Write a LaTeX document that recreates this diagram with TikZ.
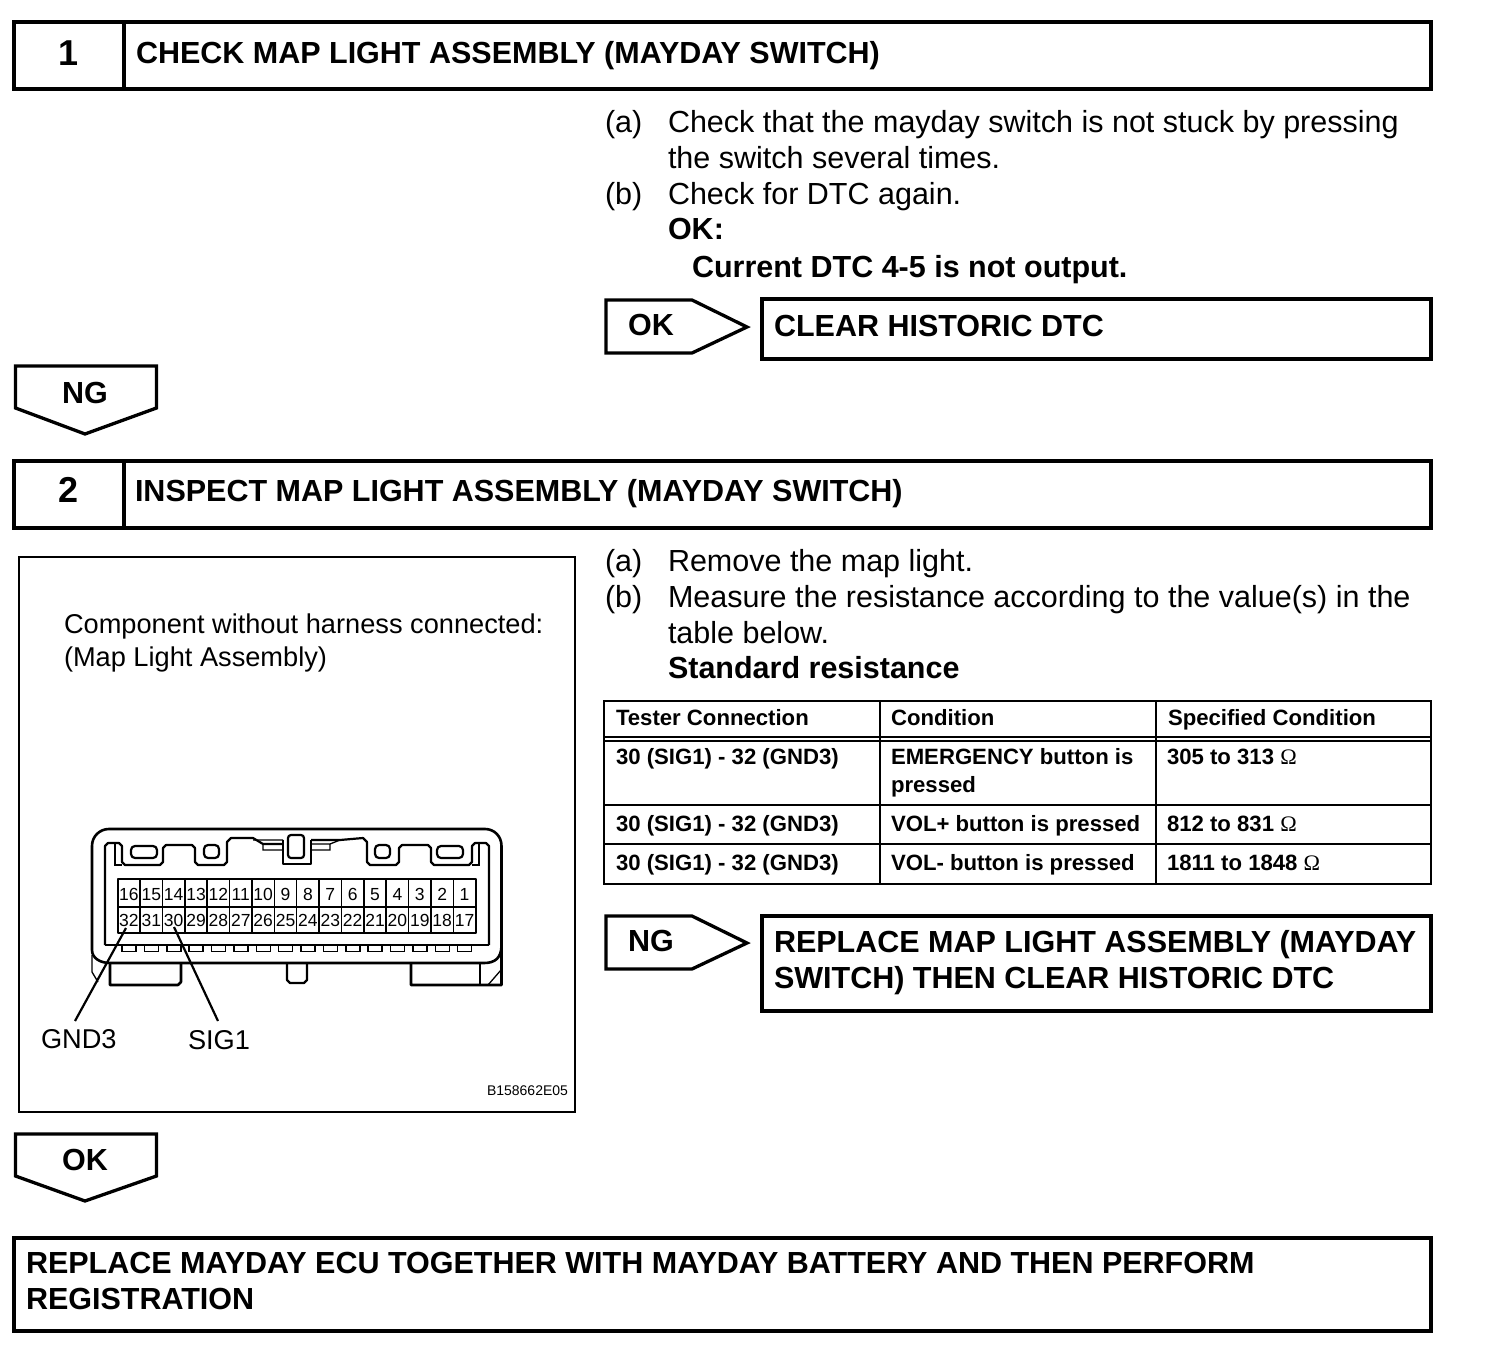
\documentclass[tikz,border=0pt]{standalone}
\usepackage{fontspec}
\setmainfont{Liberation Sans}
\newfontfamily\omfont{Liberation Serif}
\newcommand{\fs}[1]{\fontsize{#1}{#1}\selectfont}
\tikzset{
 x=1pt,y=-1pt,
 txt/.style={anchor=base west,inner sep=0pt,outer sep=0pt},
 head/.style={txt,font=\fs{30.5}\bfseries},
 body/.style={txt,font=\fs{30.5}},
 bodyb/.style={txt,font=\fs{30.5}\bfseries},
 tabt/.style={txt,font=\fs{22.15}\bfseries},
 captxt/.style={txt,font=\fs{27.2}},
 pintxt/.style={anchor=base,inner sep=0pt,font=\fs{17.5}},
 box/.style={draw,line width=3.3pt},
 arrowbox/.style={draw,line width=3.3pt,miter limit=10},
 tline/.style={line width=2.4pt},
 conn/.style={line width=2.2pt,line join=round},
 thinl/.style={line width=1.3pt},
}
\begin{document}
\begin{tikzpicture}
\useasboundingbox (0,0) rectangle (1504,1372);
\fill[white] (0,0) rectangle (1504,1372);
% step 1
\draw[box] (14,22) rectangle (1431,89);
\draw[box] (124,22) -- (124,89);
\node[head,anchor=base,font=\fs{36}\bfseries] (n1) at (69,65.5) {1};
\node[head] (t1) at (136,64) {CHECK MAP LIGHT ASSEMBLY (MAYDAY SWITCH)};
\node[body] (a1l) at (605,132.5) {(a)};
\node[body] (a1) at (668,132.5) {Check that the mayday switch is not stuck by pressing};
\node[body] (a1b) at (668,168.5) {the switch several times.};
\node[body] (b1l) at (605,204.5) {(b)};
\node[body] (b1) at (668,204.5) {Check for DTC again.};
\node[bodyb] (ok1) at (668,240) {OK:};
\node[bodyb] (ok1t) at (692,277) {Current DTC 4-5 is not output.};
% OK right arrow
\draw[arrowbox] (606,300) -- (692,300) -- (747,327) -- (692,353) -- (606,353) -- cycle;
\node[head,anchor=base] (okr) at (651,335) {OK};
\draw[box] (762,299) rectangle (1431,359);
\node[head] (clr) at (774,336.5) {CLEAR HISTORIC DTC};
% NG down
\draw[arrowbox] (15.5,366) -- (156.5,366) -- (156.5,408) -- (85,434) -- (15.5,408) -- cycle;
\node[head,anchor=base] (ngd) at (85,403) {NG};
% step 2
\draw[box] (14,461) rectangle (1431,528);
\draw[box] (124,461) -- (124,528);
\node[head,anchor=base,font=\fs{36}\bfseries] (n2) at (69,502) {2};
\node[head] (t2) at (135,501.5) {INSPECT MAP LIGHT ASSEMBLY (MAYDAY SWITCH)};
\node[body] (a2l) at (605,571) {(a)};
\node[body] (a2) at (668,571) {Remove the map light.};
\node[body] (b2l) at (605,607) {(b)};
\node[body] (b2) at (668,607) {Measure the resistance according to the value(s) in the};
\node[body] (b2b) at (668,643) {table below.};
\node[bodyb] (std) at (668,678.5) {Standard resistance};
% table
\draw[tline] (604,701) rectangle (1431,884);
\draw[tline] (880,701) -- (880,884);
\draw[tline] (1156,701) -- (1156,884);
\draw[tline] (604,737) -- (1431,737);
\draw[tline] (604,741) -- (1431,741);
\draw[tline] (604,805) -- (1431,805);
\draw[tline] (604,844) -- (1431,844);
\node[tabt] (h1) at (616,725.5) {Tester Connection};
\node[tabt] (h2) at (891,725.5) {Condition};
\node[tabt] (h3) at (1168,725.5) {Specified Condition};
\node[tabt] (r1a) at (616,764.5) {30 (SIG1) - 32 (GND3)};
\node[tabt] (r1b) at (891,764.5) {EMERGENCY button is};
\node[tabt] (r1bb) at (891,792.5) {pressed};
\node[tabt] (r1c) at (1167,764.5) {305 to 313 {\omfont\mdseries Ω}};
\node[tabt] (r2a) at (616,831.5) {30 (SIG1) - 32 (GND3)};
\node[tabt] (r2b) at (891,831.5) {VOL+ button is pressed};
\node[tabt] (r2c) at (1167,831.5) {812 to 831 {\omfont\mdseries Ω}};
\node[tabt] (r3a) at (616,870.5) {30 (SIG1) - 32 (GND3)};
\node[tabt] (r3b) at (891,870.5) {VOL- button is pressed};
\node[tabt] (r3c) at (1167,870.5) {1811 to 1848 {\omfont\mdseries Ω}};
% NG right arrow
\draw[arrowbox] (606,916) -- (692,916) -- (747,943) -- (692,969) -- (606,969) -- cycle;
\node[head,anchor=base] (ngr) at (651,951.5) {NG};
\draw[box] (762,916) rectangle (1431,1011);
\node[head] (rep1) at (774,952.5) {REPLACE MAP LIGHT ASSEMBLY (MAYDAY};
\node[head] (rep2) at (774,988.5) {SWITCH) THEN CLEAR HISTORIC DTC};
% figure frame
\draw[line width=2pt] (19,557) rectangle (575,1112);
\node[captxt] (c1) at (64,633) {Component without harness connected:};
\node[captxt] (c2) at (64,666) {(Map Light Assembly)};
% connector housing
\draw[conn,line width=2.6pt] (92,846) .. controls (92,836) and (100,829) .. (109,829) -- (485,829) .. controls (494,829) and (501.5,836) .. (501.5,846) -- (501.5,985) -- (411,985) -- (411,963);
\draw[conn,line width=2.6pt] (92,846) -- (92,950) .. controls (92,958) and (100,963) .. (110,963) -- (484,963) .. controls (495,963) and (501.5,958) .. (501.5,945);
\draw[thinl] (92,955) -- (92,972) -- (98,982);
\draw[conn,line width=2.6pt] (110,963) -- (110,985) -- (178,985) -- (181,982) -- (181,963);
\draw[conn] (287,963) -- (287,980) -- (290,983) -- (304,983) -- (307,980) -- (307,963);
\draw[thinl] (480,963) -- (480,985);
\draw[thinl] (501,970) -- (488,985);
% inner outline
\draw[conn] (105,945) -- (105,846) -- (108,843) -- (119,843) -- (122,846) -- (122,862) -- (125,865) -- (160,865) -- (163,862) -- (163,848) -- (166,845) -- (192,845) -- (195,848) -- (195,862) -- (198,865) -- (224,865) -- (227,862) -- (227,842) -- (231,838) -- (253,838) -- (263,844) -- (283,844);
\draw[conn] (489,945) -- (489,846) -- (486,843) -- (475,843) -- (472,846) -- (472,862) -- (469,865) -- (434,865) -- (431,862) -- (431,848) -- (428,845) -- (402,845) -- (399,848) -- (399,862) -- (396,865) -- (370,865) -- (367,862) -- (367,842) -- (363,838) -- (340,840) -- (311,840);
\draw[conn] (105,945) -- (489,945);
\draw[thinl] (115,843) -- (115,865) -- (122,865) (479,843) -- (479,865) -- (472,865);
\draw[conn] (283,840) -- (283,864) -- (311,864) -- (311,840);
\draw[conn,rounded corners=3pt] (288,835) rectangle (304,858);
\draw[thinl] (253,840) -- (283,840) (263,844) -- (263,850) -- (283,850) (340,840) -- (330,844) -- (330,850) -- (311,850) (330,844) -- (311,844);
\draw[conn,rounded corners=4pt] (131,846) rectangle (157,858);
\draw[conn,rounded corners=4pt] (204,845) rectangle (219,858);
\draw[conn,rounded corners=4pt] (375,845) rectangle (390,858);
\draw[conn,rounded corners=4pt] (437,846) rectangle (463,858);
% pin grid
\draw[conn,line width=2.2pt] (117.7,879) rectangle (475.7,933);
\draw[thinl] (117.7,907) -- (475.7,907);
\foreach \i in {1,...,15}{\draw[line width=1.5pt] ({117.7+22.375*\i},879) -- ({117.7+22.375*\i},933);}
\foreach \i in {0,...,15}{
  \pgfmathtruncatemacro{\ptop}{16-\i}
  \pgfmathtruncatemacro{\pbot}{32-\i}
  \node[pintxt] (pt\ptop) at ({128.9+22.375*\i},900.5) {\ptop};
  \node[pintxt] (pb\pbot) at ({128.9+22.375*\i},926.5) {\pbot};
  \draw[line width=1.5pt] ({122+22.375*\i},945) -- ({122+22.375*\i},951.5) -- ({136+22.375*\i},951.5) -- ({136+22.375*\i},945);
}
% leaders
\coordinate (gl) at (75,1021);
\coordinate (sl) at (218,1021);
\node[captxt] (gnd) at (41,1048) {GND3};
\node[captxt] (sig) at (188,1049) {SIG1};
\draw[conn] (126,928) -- (gl);
\draw[conn] (174,927) -- (sl);
\node[txt,font=\fs{14}] (ref) at (487,1095) {B158662E05};
% OK down
\draw[arrowbox] (15.5,1134) -- (156.5,1134) -- (156.5,1176) -- (85,1201) -- (15.5,1176) -- cycle;
\node[head,anchor=base] (okd) at (85,1170.5) {OK};
% final
\draw[box] (14,1238) rectangle (1431,1331);
\node[head] (f1) at (26,1273.5) {REPLACE MAYDAY ECU TOGETHER WITH MAYDAY BATTERY AND THEN PERFORM};
\node[head] (f2) at (26,1309.5) {REGISTRATION};
\end{tikzpicture}
\end{document}
